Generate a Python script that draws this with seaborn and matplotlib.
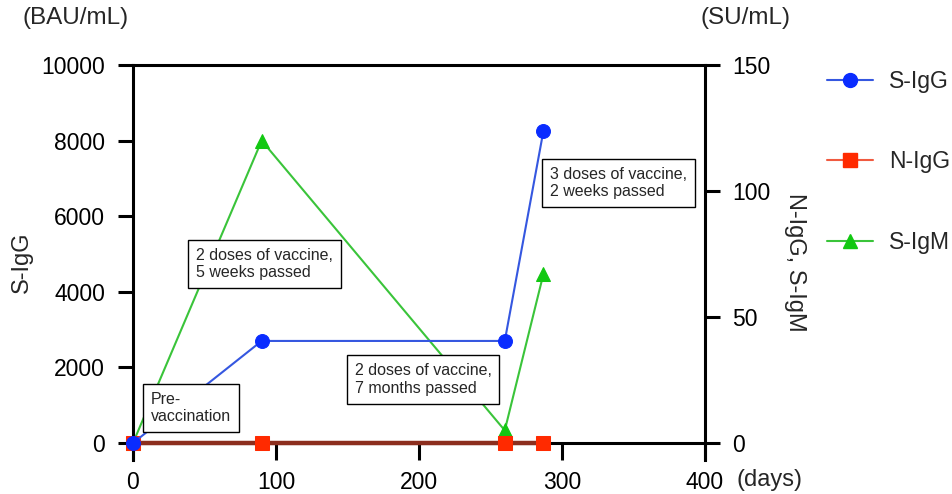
import matplotlib
matplotlib.use("Agg")
import matplotlib.pyplot as plt
from matplotlib.lines import Line2D
import pandas as pd
import seaborn as sns

# ------------------------------------------------
# Data
# ------------------------------------------------

days = [0, 90, 260, 287]
s_igg = [0, 2700, 2700, 8250]      # BAU/mL, left axis
n_igg = [0, 0, 0, 0]               # SU/mL, right axis
s_igm = [0, 120, 5, 67]            # SU/mL, right axis

notes = [
    (12.5, 500, "Pre-\nvaccination"),
    (44, 4300, "2 doses of vaccine,\n5 weeks passed"),
    (155, 1250, "2 doses of vaccine,\n7 months passed"),
    (291.5, 6450, "3 doses of vaccine,\n2 weeks passed"),
]

x_ticks = [0, 100, 200, 300, 400]
left_ticks = [0, 2000, 4000, 6000, 8000, 10000]
right_ticks = [0, 50, 100, 150]

BLUE, BLUE_LINE = "#0a2cff", "#3557e0"
RED, RED_LINE = "#ff2a00", "#8c2e1e"
GREEN, GREEN_LINE = "#12c812", "#3ac43a"

df = pd.DataFrame({"days": days, "S-IgG": s_igg, "N-IgG": n_igg, "S-IgM": s_igm})

# ------------------------------------------------
# Plot
# ------------------------------------------------

sns.set_style("ticks")
plt.rcParams["font.family"] = ["Liberation Sans", "DejaVu Sans"]

fig = plt.figure(figsize=(9.52, 4.94), dpi=100)
ax = fig.add_axes([0.1397, 0.0688, 0.6008, 0.7996])
ax2 = ax.twinx()

ax.set_xlim(0, 400)
ax.set_ylim(-450, 10000)
ax2.set_ylim(-6.75, 150)

# right-axis series; drawn into the front axes with the right-axis transform
# so they sit above the x axis line and below the note boxes
sns.lineplot(data=df, x="days", y="S-IgM", ax=ax, transform=ax2.transData,
             color=GREEN_LINE, lw=1.5, marker="^", markersize=10,
             markerfacecolor=GREEN, markeredgecolor=GREEN, zorder=3, clip_on=False)
sns.lineplot(data=df, x="days", y="N-IgG", ax=ax, transform=ax2.transData,
             color=RED_LINE, lw=3.2, marker="s", markersize=9.5,
             markerfacecolor=RED, markeredgecolor=RED, zorder=3, clip_on=False)
sns.lineplot(data=df, x="days", y="S-IgG", ax=ax, color=BLUE_LINE, lw=1.5,
             marker="o", markersize=10, markerfacecolor=BLUE, markeredgecolor=BLUE,
             zorder=4, clip_on=False)

ax.set_zorder(ax2.get_zorder() + 1)
ax.patch.set_visible(False)

ax.set_xlim(0, 400)
ax.set_ylim(-450, 10000)
ax2.set_ylim(-6.75, 150)

ax.set_xticks(x_ticks)
ax.set_yticks(left_ticks)
ax2.set_yticks(right_ticks)

for a in (ax, ax2):
    a.set_xlabel("")
    for s in a.spines.values():
        s.set_linewidth(2.2)
        s.set_color("black")
    a.tick_params(width=2.2, length=11, labelsize=16.5, colors="black")

ax.spines["bottom"].set_position(("data", 0))
ax2.spines["bottom"].set_visible(False)
ax.spines["top"].set_visible(True)
ax.spines["right"].set_visible(False)
ax2.spines["left"].set_visible(False)
ax2.spines["top"].set_visible(False)

ax.tick_params(axis="x", length=12, pad=8.5)
ax.tick_params(axis="y", pad=9)
ax2.tick_params(axis="y", pad=8.5)

ax.set_ylabel("S-IgG", fontsize=17, labelpad=6)
ax2.set_ylabel("N-IgG, S-IgM", fontsize=17, rotation=-90, labelpad=26)

fig.text(0.079, 0.963, "(BAU/mL)", fontsize=17.5, ha="center", va="center")
fig.text(0.783, 0.963, "(SU/mL)", fontsize=17.5, ha="center", va="center")
fig.text(0.808, 0.029, "(days)", fontsize=17, ha="center", va="center")

for x, y, txt in notes:
    ax.text(x, y, txt, fontsize=11.5, ha="left", va="bottom", linespacing=1.2,
            bbox=dict(boxstyle="square,pad=0.5", fc="white", ec="black", lw=1),
            zorder=5)

handles = [
    Line2D([], [], color=BLUE_LINE, lw=1.5, marker="o", markersize=10,
           markerfacecolor=BLUE, markeredgecolor=BLUE),
    Line2D([], [], color="#f05a40", lw=1.5, marker="s", markersize=9.5,
           markerfacecolor=RED, markeredgecolor=RED),
    Line2D([], [], color=GREEN_LINE, lw=1.5, marker="^", markersize=10,
           markerfacecolor=GREEN, markeredgecolor=GREEN),
]
fig.legend(handles, ["S-IgG", "N-IgG", "S-IgM"], loc="upper left",
           bbox_to_anchor=(0.847, 0.9), frameon=False, fontsize=16.5,
           handlelength=2.0, labelspacing=2.5, handletextpad=0.7)

fig.savefig("out.png", dpi=100)
